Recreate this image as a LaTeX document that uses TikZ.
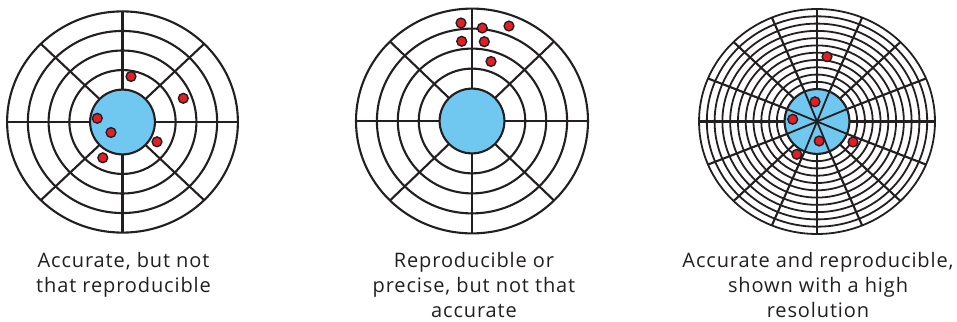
\documentclass[tikz,border=0pt]{standalone}
\usepackage{fontspec}
\setmainfont{Open Sans}[LetterSpace=4.4]
\definecolor{ink}{HTML}{231F20}
\definecolor{bull}{RGB}{112,200,240}
\definecolor{shot}{RGB}{228,30,38}
\begin{document}
\begin{tikzpicture}[x=1pt,y=-1pt,
  ring/.style={draw=ink,line width=2.1pt},
  finering/.style={draw=ink,line width=1.8pt},
  spoke/.style={draw=ink,line width=2.1pt},
  bullseye/.style={draw=ink,line width=2.1pt,fill=bull},
  hit/.style={draw=ink,line width=1.4pt,fill=shot},
  caption/.style={font=\fontsize{20}{24.6}\selectfont,align=center,text=ink,inner sep=0pt,anchor=north}]
\useasboundingbox (0,0) rectangle (957,321);

% ---- target 1 ----
\begin{scope}[shift={(122.5,122)}]
  \foreach \k in {1,...,4}
    \draw[ring] (0,0) ellipse [x radius={(32.4+20.75*\k)*1pt}, y radius={(32.4+19.55*\k)*1pt}];
  \draw[bullseye] (0,0) circle [radius=32.4pt];
  \foreach \a in {0,45,...,315}
    \draw[spoke] ({32.4*cos(\a)},{32.4*sin(\a)}) -- ({115.5*cos(\a)},{110.6*sin(\a)});
\end{scope}
\foreach \p in {(131,76.5),(183.3,98.3),(97.3,118.3),(111,132.5),(157,141.8),(102.8,157.8)}
  \draw[hit] \p circle [radius=4.9pt];

% ---- target 2 ----
\begin{scope}[shift={(472,121)}]
  \foreach \k in {1,...,4}
    \draw[ring] (0,0) ellipse [x radius={(32.4+20.9*\k)*1pt}, y radius={(32.4+20*\k)*1pt}];
  \draw[bullseye] (0,0) circle [radius=32.4pt];
  \foreach \a in {0,45,...,315}
    \draw[spoke] ({32.4*cos(\a)},{32.4*sin(\a)}) -- ({116*cos(\a)},{112.4*sin(\a)});
\end{scope}
\foreach \p in {(461,23),(482.3,28),(509,26),(461.7,41.3),(484.3,41.7),(491,61.5)}
  \draw[hit] \p circle [radius=4.9pt];

% ---- target 3 ----
\begin{scope}[shift={(817,121.5)}]
  \foreach \k in {1,...,11}
    \draw[finering] (0,0) ellipse [x radius={(32.4+7.78*\k)*1pt}, y radius={(32.4+7.28*\k)*1pt}];
  \draw[bullseye] (0,0) circle [radius=32.4pt];
  \foreach \a in {0,22.5,...,337.5}
    \draw[spoke] ({32.4*cos(\a)},{32.4*sin(\a)}) -- ({118*cos(\a)},{112.5*sin(\a)});
  \foreach \a in {22.5,67.5,...,337.5}
    \draw[finering] (0,0) -- ({32.4*cos(\a)},{32.4*sin(\a)});
\end{scope}
\foreach \p in {(827,56.7),(815,101.8),(792.7,119.3),(819.2,141),(853,142),(796.8,154.3)}
  \draw[hit] \p circle [radius=4.9pt];

% ---- captions ----
\node[caption] (cap1) at (123.5,252.5) {Accurate, but not\\that reproducible};
\node[caption] (cap2) at (474,252.5) {Reproducible or\\precise, but not that\\accurate};
\node[caption] (cap3) at (818,252.5) {Accurate and reproducible,\\shown with a high\\resolution};
\end{tikzpicture}
\end{document}
